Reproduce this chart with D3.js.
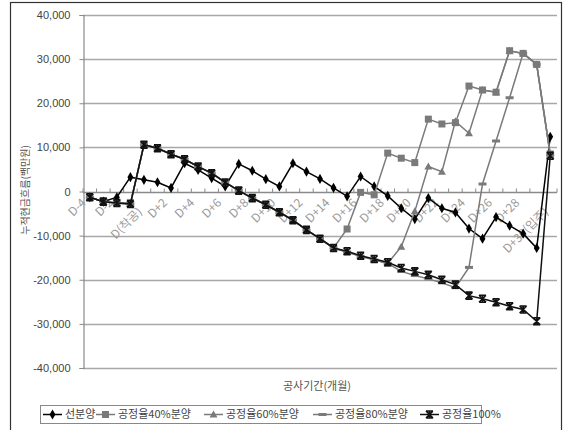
<!DOCTYPE html>
<html>
<head>
<meta charset="utf-8">
<script src="https://cdn.jsdelivr.net/npm/d3@7"></script>
<style>
  body { margin: 0; background: #fff; }
  svg text { font-family: "Liberation Sans", Arial, "Noto Sans CJK KR", sans-serif; }
  .kr { font-family: "Noto Sans CJK KR", "Liberation Sans", sans-serif; }
</style>
</head>
<body>
<div id="chart"></div>
<script>
// categories (months)
var months = ["D-4", "D-3", "D-2", "D-1", "D(착공)"];
for (var m = 1; m <= 29; m++) months.push("D+" + m);
months.push("D+30(입주)");

// cumulative cash flow (백만원)
var preSale = [-1300, -2300, -1300, 3250, 2650, 2100, 800, 6400, 4900, 3050, 1150, 6250, 4700, 2800, 1150,
  6400, 4500, 2850, 800, -1100, 3400, 1150, -1000, -3800, -6250, -1500, -3800, -4750, -8400, -10700,
  -5800, -7750, -9550, -12800, 12400];
var sale40 = [-1300, -2300, -2600, -2800, 10600, 9800, 8450, 7300, 5650, 4150, 2050, 200, -1500, -3000, -4700,
  -6500, -8700, -10700, -12800, -8500, -200, -750, 8700, 7550, 6550, 16400, 15300, 15600, 23900, 23000,
  22500, 31900, 31300, 28800, 8500];
var sale60 = [-1300, -2300, -2600, -2800, 10600, 9800, 8450, 7300, 5650, 4150, 2050, 200, -1500, -3000, -4700,
  -6500, -8700, -10700, -12800, -13700, -14700, -15500, -16300, -12500, -4500, 5650, 4500, 15900, 13200, 23000,
  22500, 31900, 31300, 28800, 8300];
var sale80 = [-1300, -2300, -2600, -2800, 10600, 9800, 8450, 7300, 5650, 4150, 2050, 200, -1500, -3000, -4700,
  -6500, -8700, -10700, -12800, -13700, -14700, -15500, -16300, -18100, -19050, -19800, -20700, -21800, -17200, 1700,
  11450, 21250, 31300, 28800, 8300];
var sale100 = [-1300, -2300, -2600, -2800, 10600, 9800, 8450, 7300, 5650, 4150, 2050, 200, -1500, -3000, -4700,
  -6500, -8700, -10700, -12800, -13550, -14550, -15300, -16050, -17350, -18100, -18850, -20000, -21100, -23600, -24300,
  -25100, -26000, -26750, -29400, 8100];

var yTicks = [-40000, -30000, -20000, -10000, 0, 10000, 20000, 30000, 40000];

var series = [
  {name: "선분양", values: preSale, color: "#000", marker: "diamond"},
  {name: "공정율40%분양", values: sale40, color: "#7a7a7a", marker: "square"},
  {name: "공정율60%분양", values: sale60, color: "#7a7a7a", marker: "triangle"},
  {name: "공정율80%분양", values: sale80, color: "#7a7a7a", marker: "dash"},
  {name: "공정율100%", values: sale100, color: "#111", marker: "star"}
];

var W = 565, H = 430;
var plot = {left: 83, right: 557, top: 15, bottom: 368};

var svg = d3.select("#chart").append("svg")
  .attr("width", W).attr("height", H);

// outer frame
svg.append("rect")
  .attr("x", 10.5).attr("y", 2.5).attr("width", 551).attr("height", 440)
  .attr("fill", "none").attr("stroke", "#333").attr("stroke-width", 1.2);

var x = d3.scaleBand().domain(months).range([plot.left, plot.right]).padding(0);
var y = d3.scaleLinear().domain([-40000, 40000]).range([plot.bottom, plot.top]);
var cx = function(i) { return x(months[i]) + x.bandwidth() / 2; };

// gridlines
svg.append("g").selectAll("line")
  .data(yTicks)
  .enter().append("line")
    .attr("x1", plot.left).attr("x2", plot.right)
    .attr("y1", function(d) { return Math.round(y(d)) + 0.5; })
    .attr("y2", function(d) { return Math.round(y(d)) + 0.5; })
    .attr("stroke", function(d) { return d === 0 ? "#8a8a8a" : "#a8a8a8"; })
    .attr("stroke-width", 1.3);

// y axis
var yAxis = svg.append("g")
  .attr("transform", "translate(" + (plot.left + 0.5) + ",0)")
  .call(d3.axisLeft(y).tickValues(yTicks).tickSize(4).tickPadding(9)
    .tickFormat(function(d) { return d3.format(",")(d).replace("−", "-"); }));
yAxis.select(".domain").attr("stroke", "#8a8a8a").attr("stroke-width", 1.2);
yAxis.selectAll(".tick line").attr("stroke", "#8a8a8a");
yAxis.selectAll(".tick text")
  .attr("fill", "#444").style("font-size", "11px")
  .style("font-family", "'Liberation Sans', Arial, sans-serif");

// category tick marks on the zero line
var y0 = Math.round(y(0)) + 0.5;
svg.append("g").selectAll("line")
  .data(d3.range(months.length + 1))
  .enter().append("line")
    .attr("x1", function(i) { return plot.left + i * x.bandwidth(); })
    .attr("x2", function(i) { return plot.left + i * x.bandwidth(); })
    .attr("y1", y0 - 4).attr("y2", y0)
    .attr("stroke", "#8a8a8a");

// category labels (every second month), rotated; longer labels sit lower
svg.append("g").selectAll("text")
  .data(months.filter(function(d, i) { return i % 2 === 0; }))
  .enter().append("text")
    .attr("class", "kr")
    .attr("transform", function(d) {
      var long = d.indexOf("(") >= 0;
      var tx = x(d) + x.bandwidth() / 2 - (long ? 4 : 6);
      var ty = y0 + (long ? 17 : 8);
      return "translate(" + tx + "," + ty + ") rotate(-45)";
    })
    .attr("text-anchor", "end")
    .attr("dy", "0.35em")
    .attr("fill", "#9a9a9a")
    .style("font-size", "12px")
    .text(function(d) { return d; });

// axis titles
svg.append("text")
  .attr("class", "kr")
  .attr("transform", "translate(29,190) rotate(-90)")
  .attr("text-anchor", "middle")
  .attr("fill", "#555")
  .style("font-size", "10px")
  .text("누적현금흐름(백만원)");

svg.append("text")
  .attr("class", "kr")
  .attr("x", 317).attr("y", 390)
  .attr("text-anchor", "middle")
  .attr("fill", "#555")
  .style("font-size", "11px")
  .text("공사기간(개월)");

// marker drawing
function drawMarker(g, type, color) {
  if (type === "diamond") {
    g.append("path").attr("d", d3.symbol().type(d3.symbolDiamond).size(30)()).attr("fill", color);
  } else if (type === "square") {
    g.append("rect").attr("x", -3.5).attr("y", -3.5).attr("width", 7).attr("height", 7).attr("fill", color);
  } else if (type === "triangle") {
    g.append("path").attr("d", "M0,-4L4,3L-4,3Z").attr("fill", color);
  } else if (type === "dash") {
    g.append("rect").attr("x", -4).attr("y", -1.5).attr("width", 8).attr("height", 3).attr("fill", color);
  } else if (type === "star") {
    g.append("path").attr("d", "M-3.5,-3.5L3.5,3.5M-3.5,3.5L3.5,-3.5M0,-4L0,4M-3.5,-3.5L3.5,-3.5M-3.5,3.5L3.5,3.5")
      .attr("stroke", color).attr("stroke-width", 1.6).attr("fill", "none");
  }
}

var line = d3.line()
  .x(function(d, i) { return cx(i); })
  .y(function(d) { return y(d); });

series.forEach(function(s) {
  var g = svg.append("g");
  g.append("path")
    .datum(s.values)
    .attr("d", line)
    .attr("fill", "none")
    .attr("stroke", s.color)
    .attr("stroke-width", 1.5);
  g.selectAll("g")
    .data(s.values)
    .enter().append("g")
      .attr("transform", function(d, i) { return "translate(" + cx(i) + "," + y(d) + ")"; })
      .each(function() { drawMarker(d3.select(this), s.marker, s.color); });
});

// legend
var legend = svg.append("g");
legend.append("rect")
  .attr("x", 40.5).attr("y", 405.5).attr("width", 441).attr("height", 18)
  .attr("fill", "#fff").attr("stroke", "#888");
var legX = [43, 96, 204, 313, 420];
series.forEach(function(s, i) {
  var item = legend.append("g").attr("transform", "translate(" + legX[i] + ",414.5)");
  item.append("line").attr("x1", 0).attr("x2", 19).attr("stroke", s.color).attr("stroke-width", 1.5);
  drawMarker(item.append("g").attr("transform", "translate(9.5,0)"), s.marker, s.color);
  item.append("text")
    .attr("class", "kr")
    .attr("x", 22).attr("dy", "0.36em")
    .attr("fill", "#444")
    .style("font-size", "11px")
    .text(s.name);
});
</script>
</body>
</html>
